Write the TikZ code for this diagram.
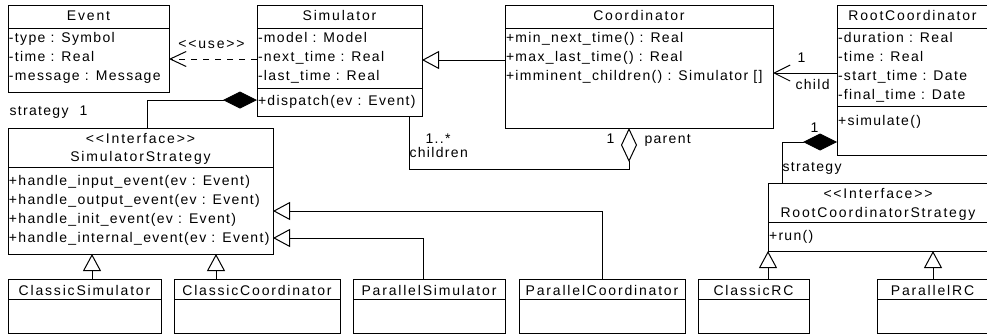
\documentclass[tikz,border=0pt]{standalone}
\usepackage{fontspec}
\newfontfamily\bodyfont[LetterSpace=9.5]{Liberation Sans}
\newfontfamily\hdfont[LetterSpace=13]{Liberation Sans}
\usetikzlibrary{arrows.meta}

\tikzset{
  cls/.style 2 args={draw, anchor=north west, inner sep=0pt, outer sep=0pt, minimum width=#1, minimum height=#2},
  txt/.style={anchor=base west, inner sep=0pt},
  ttl/.style={anchor=base, inner sep=0pt, font=\hdfont\fontsize{14}{19}\selectfont},
  gen/.style={-{Triangle[open, length=17pt, width=18pt]}},
  dep/.style={dash pattern=on 6pt off 6pt, -{Straight Barb[length=16pt, width=15pt]}},
  assoc/.style={-{Straight Barb[length=16pt, width=16pt]}},
  comp/.style={-{Diamond[length=34pt, width=17pt]}},
  aggr/.style={-{Diamond[open, length=34pt, width=16pt]}}
}

\begin{document}
\begin{tikzpicture}[x=1pt, y=-1pt, line width=1pt, font=\bodyfont\fontsize{14}{19}\selectfont]
\useasboundingbox (0,0) rectangle (987,335);
\clip (0,0) rectangle (987,335);

\node[cls={161}{87}] (ev) at (8,5) {};
\node[cls={165}{111}] (sim) at (257,5) {};
\node[cls={268}{123}] (crd) at (505,5) {};
\node[cls={151}{150}] (rc) at (837,5) {};
\node[cls={265}{126}] (sstr) at (8,128) {};
\node[cls={220}{68}] (rcs) at (768,183) {};

\foreach \b/\y in {ev/28, sim/28, sim/88, crd/28, rc/28, rc/106, sstr/167, rcs/222}
  \draw (\b.west |- 0,\y) -- (\b.east |- 0,\y);

\node[ttl] (ev-t) at (ev.north |- 0,20) {Event};
\node[ttl] (sim-t) at (sim.north |- 0,20) {Simulator};
\node[ttl] (crd-t) at (crd.north |- 0,20) {Coordinator};
\node[ttl] (rc-t) at (rc.north |- 0,20) {RootCoordinator};
\node[ttl] (sstr-s) at (sstr.north |- 0,143) {<<Interface>>};
\node[ttl] (sstr-t) at (sstr.north |- 0,161) {SimulatorStrategy};
\node[ttl] (rcs-s) at (rcs.north |- 0,198) {<<Interface>>};
\node[ttl] (rcs-t) at (rcs.north |- 0,217) {RootCoordinatorStrategy};

\foreach \n/\x/\y/\t in {
    ev1/8.5/42/-type : Symbol, ev2/8.5/61/-time : Real, ev3/8.5/80/-message : Message,
    sim1/257.5/42/-model : Model, sim2/257.5/61/-next\_time : Real,
    sim3/257.5/80/-last\_time : Real, sim4/257.5/105/+dispatch(ev : Event),
    crd1/505.5/42/+min\_next\_time() : Real, crd2/505.5/61/+max\_last\_time() : Real,
    crd3/505.5/80/+imminent\_children() : Simulator [],
    rc1/837.5/42/-duration : Real, rc2/837.5/61/-time : Real,
    rc3/837.5/80/-start\_time : Date, rc4/837.5/99/-final\_time : Date,
    rc5/837.5/125/+simulate(),
    sstr1/8.5/185/+handle\_input\_event(ev : Event),
    sstr2/8.5/204/+handle\_output\_event(ev : Event),
    sstr3/8.5/223/+handle\_init\_event(ev : Event),
    sstr4/8.5/242/+handle\_internal\_event(ev : Event),
    rcs1/768.5/240/+run()}
  \node[txt] (\n) at (\x,\y) {\t};

\foreach \n/\x/\w/\t in {csim/8/153/ClassicSimulator, ccrd/174/166/ClassicCoordinator,
    psim/353/152/ParallelSimulator, pcrd/519/166/ParallelCoordinator,
    crc/698/111/ClassicRC, prc/877/111/ParallelRC}{
  \node[cls={\w}{54}] (\n) at (\x,279) {};
  \draw (\n.west |- 0,299) -- (\n.east |- 0,299);
  \node[ttl] (\n-t) at (\n.north |- 0,295) {\t};
}

\draw[dep] (sim.west |- 0,59) -- (ev.east |- 0,59);
\draw[gen] (crd.west |- 0,60) -- (sim.east |- 0,60);
\draw[assoc] (rc.west |- 0,73) -- (crd.east |- 0,73);
\draw[comp] (147,0 |- sstr.north) |- (sim.west |- 0,100);
\draw[aggr] (409,0 |- sim.south) -- (409,169) -| (629,0 |- crd.south);
\draw[comp] (782,0 |- rcs.north) |- (rc.west |- 0,142);

\draw[gen] (92,0 |- csim.north) -- (92,0 |- sstr.south);
\draw[gen] (216,0 |- ccrd.north) -- (216,0 |- sstr.south);
\draw[gen] (423,0 |- psim.north) |- (sstr.east |- 0,238);
\draw[gen] (602,0 |- pcrd.north) |- (sstr.east |- 0,211);
\draw[gen] (768,0 |- crc.north) -- (768,0 |- rcs.south);
\draw[gen] (933,0 |- prc.north) -- (933,0 |- rcs.south);

\node[anchor=base, inner sep=0pt, font=\hdfont\fontsize{14}{19}\selectfont] (use) at (211.5,48) {<<use>>};
\node[txt] (str1) at (9,115) {strategy};
\node[txt] (str1m) at (79,115) {1};
\node[txt] (chm) at (425,143) {1..*};
\node[txt] (ch) at (409,157) {children};
\node[txt] (parm) at (606,143) {1};
\node[txt] (par) at (644,143) {parent};
\node[txt] (cldm) at (797,62) {1};
\node[txt] (cld) at (795,89) {child};
\node[txt] (str2m) at (810,132) {1};
\node[txt] (str2) at (782,171) {strategy};
\end{tikzpicture}
\end{document}
